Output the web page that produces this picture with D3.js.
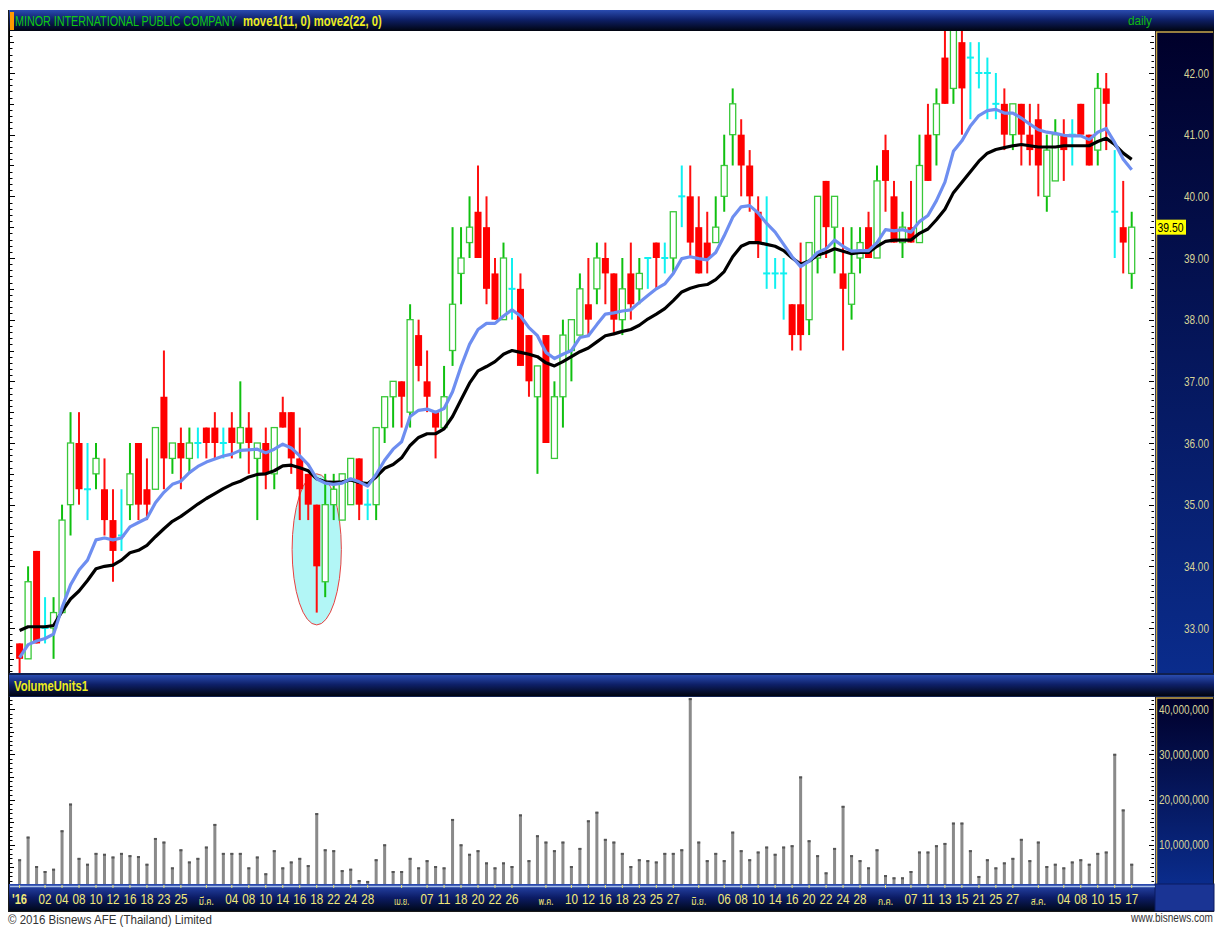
<!DOCTYPE html>
<html><head><meta charset="utf-8">
<script src="https://cdn.jsdelivr.net/npm/d3@7"></script>
<style>body{margin:0;background:#fff;}svg{display:block}</style>
</head><body>
<svg id="chart" width="1215" height="927"></svg>
<script>
// ---------- DATA ----------
const dates = [
"2016-01-28","2016-01-29",
"2016-02-01","2016-02-02","2016-02-03","2016-02-04","2016-02-05","2016-02-08","2016-02-09","2016-02-10","2016-02-11","2016-02-12",
"2016-02-15","2016-02-16","2016-02-17","2016-02-18","2016-02-19","2016-02-23","2016-02-24","2016-02-25","2016-02-26","2016-02-29",
"2016-03-01","2016-03-02","2016-03-03","2016-03-04","2016-03-07","2016-03-08","2016-03-09","2016-03-10","2016-03-11","2016-03-14",
"2016-03-15","2016-03-16","2016-03-17","2016-03-18","2016-03-21","2016-03-22","2016-03-23","2016-03-24","2016-03-25","2016-03-28",
"2016-03-29","2016-03-30","2016-03-31",
"2016-04-01","2016-04-04","2016-04-05","2016-04-07","2016-04-08","2016-04-11","2016-04-12","2016-04-18","2016-04-19","2016-04-20",
"2016-04-21","2016-04-22","2016-04-25","2016-04-26","2016-04-27","2016-04-28","2016-04-29",
"2016-05-03","2016-05-04","2016-05-09","2016-05-10","2016-05-11","2016-05-12","2016-05-13","2016-05-16","2016-05-17","2016-05-18",
"2016-05-19","2016-05-23","2016-05-24","2016-05-25","2016-05-26","2016-05-27","2016-05-30","2016-05-31",
"2016-06-01","2016-06-02","2016-06-03","2016-06-06","2016-06-07","2016-06-08","2016-06-09","2016-06-10","2016-06-13","2016-06-14",
"2016-06-15","2016-06-16","2016-06-17","2016-06-20","2016-06-21","2016-06-22","2016-06-23","2016-06-24","2016-06-27","2016-06-28",
"2016-06-29","2016-06-30",
"2016-07-04","2016-07-05","2016-07-06","2016-07-07","2016-07-08","2016-07-11","2016-07-12","2016-07-13","2016-07-14","2016-07-15",
"2016-07-18","2016-07-21","2016-07-22","2016-07-25","2016-07-26","2016-07-27","2016-07-28","2016-07-29",
"2016-08-01","2016-08-02","2016-08-03","2016-08-04","2016-08-05","2016-08-08","2016-08-09","2016-08-10","2016-08-11","2016-08-15",
"2016-08-16","2016-08-17"];

const open = [32.75,32.5,34.25,33,33,33.25,35,36,35.25,35.5,35.25,34.75,34.5,35,36,35.25,35.25,36.75,35.75,36,
35.75,36,36.25,36.25,36,36.25,36,36.25,35.75,36,35.5,36.5,36.5,35.75,35.5,35,33.75,35,34.75,35,
35.75,35,35,36.25,36.75,37,36.5,37.75,37,36.5,36.25,37.5,38.75,39.25,39.75,39.5,38.75,38,38.5,38.5,
37.75,36.75,37.75,35.75,36.75,37.5,37.75,38.25,38.5,39,38.75,38,38.75,38.5,39,39.25,39,39,40,40,
39.5,39.25,39.25,40,41,41,40.5,39.75,38.75,38.75,38.75,38.25,38.25,38,39,40.25,39.5,38.75,38.25,39,
39.5,39,40.75,40,39.25,39.5,39.25,41,41,42.25,41.75,42.5,42.25,42,42,41.5,41.5,41,41.5,41,
41.25,40,40.25,41,41,41.5,41,40.75,41.75,39.75,39.5,38.75];
const high = [32.75,34,34.25,33.5,33.5,35,36.5,36.5,36,36,35.75,35.25,35.25,36,36,35.75,36.25,37.5,36,36.25,
36.25,36.25,36.25,36.5,36.25,36.5,37,36.5,36,36.25,36.25,36.75,36.5,36.25,35.5,35,35.5,35.5,35.5,35.75,
35.75,35.25,36.25,36.75,37,37,38.25,38,37.5,36.5,37.25,39.5,39.5,40,40.5,40,39,39.25,39,38.75,
37.75,37.25,37.75,37,38,38,38.75,39,39.25,39.25,38.75,39,39.25,39,39,39.25,39.25,39.75,40.5,40.5,
40,39.75,40,41,41.75,41.25,40.75,40,40,39,39,38.25,39.25,39.25,40,40.25,40,39.5,39.5,39.5,
39.75,40.5,41,40.25,39.75,40.25,41,41.5,41.75,42.75,42.75,42.75,42.5,42.5,42.25,42,41.75,41.5,41.5,41.5,
41.5,41,41.25,41.25,41.25,41.5,41,42,42,40.75,40.25,39.75];
const low = [32.25,32.5,32.75,32.75,32.5,33.25,34.5,35,34.75,35.25,34.5,33.75,34.25,34.75,34.75,34.75,35.25,35.25,35.5,35.25,
35.5,35.75,35.75,35.75,35.75,35.75,35.75,35.5,34.75,35.25,35.25,36.25,35.5,34.75,34.75,33.25,33.5,34.75,34.75,35,
34.75,34.75,34.75,36,36.25,36.25,36.25,37,36.5,35.75,36.25,37.25,38.25,39,39,38.25,38,38,38,37.25,
36.75,35.5,36,35.75,36.25,37,37.75,37.75,38.25,38.25,37.75,37.75,38,38.25,38.5,38.5,38.75,38.75,39.5,39,
38.75,38.75,39.25,39.75,40.5,40,39.75,39,38.5,38.5,38,37.5,37.5,37.75,38.75,39,38.75,37.5,38,38.75,
39,39,39.75,39.25,39,39.25,39.25,40.25,40.5,41.5,41.5,41,41.25,41.75,41.25,41.25,40.75,40.75,40.5,40.5,
40,39.75,40.25,40.25,40.5,41,40.5,40.5,40.75,39,38.75,38.5];
const close = [32.5,33.75,32.75,33,33.25,34.75,36,35.25,35.25,35.75,34.75,34.25,34.5,35.5,35,35,36.25,35.75,36,35.75,
36,36,36,36,36,36,36.25,36,36,35.5,36.25,36.25,35.75,35.25,35,34,35,35.25,35.5,35.75,
35,35,36.25,36.75,37,36.75,38,37.25,36.75,36.25,36.75,38.25,39,39.5,39,38.5,38,39,38.5,37.25,
37,37.25,36,36.75,37.75,38,38.5,38,39,38.75,38,38.5,38.25,38.75,39,39,39,39.75,40,39.25,
38.75,39,39.5,40.5,41.5,40.5,40,39.25,38.75,38.75,38.75,37.75,37.75,39.25,40,39.5,40,38.5,38.75,39.25,
39,40.25,40.25,39.25,39.5,39.25,40.5,40.25,41.5,41.5,42.75,41.75,42.25,42,42,41.5,41,41.5,41,40.75,
40.5,40.75,41,40.75,41,41,40.5,41.75,41.5,39.75,39.25,39.5];
const ma11 = [32.52,32.73,32.79,32.83,32.9,33.33,33.7,33.94,34.1,34.43,34.46,34.43,34.46,34.64,34.71,34.78,35.03,35.2,35.33,35.38,
35.52,35.62,35.69,35.74,35.79,35.82,35.88,35.89,35.9,35.84,35.9,35.98,35.92,35.79,35.65,35.42,35.35,35.33,35.35,35.42,
35.37,35.3,35.49,35.72,35.9,36.02,36.43,36.53,36.55,36.5,36.56,36.83,37.24,37.6,37.84,37.94,37.94,38.06,38.16,38.06,
37.87,37.74,37.47,37.37,37.44,37.5,37.71,37.74,37.92,38.09,38.11,38.14,38.16,38.28,38.39,38.5,38.58,38.75,38.99,39.02,
38.99,38.97,39.09,39.36,39.66,39.83,39.85,39.73,39.56,39.42,39.22,39.02,38.86,38.95,39.09,39.15,39.29,39.19,39.11,39.12,
39.12,39.25,39.46,39.44,39.46,39.42,39.59,39.69,39.93,40.23,40.73,40.9,41.14,41.31,41.39,41.41,41.35,41.35,41.27,41.17,
41.08,41.04,41.02,40.99,40.98,40.98,40.92,41.04,41.1,40.87,40.6,40.43];
const ma22 = [32.96,33.02,33.02,33.02,33.04,33.27,33.47,33.6,33.77,33.96,34,34.02,34.1,34.22,34.26,34.34,34.48,34.61,34.73,34.81,
34.91,35.01,35.1,35.18,35.26,35.33,35.38,35.45,35.49,35.5,35.55,35.63,35.64,35.6,35.55,35.42,35.37,35.36,35.37,35.4,
35.36,35.34,35.45,35.59,35.65,35.76,35.96,36.09,36.15,36.15,36.23,36.43,36.7,36.97,37.17,37.24,37.32,37.44,37.5,37.47,
37.44,37.4,37.3,37.25,37.32,37.4,37.48,37.54,37.64,37.74,37.77,37.81,37.84,37.91,38.01,38.09,38.18,38.31,38.45,38.51,
38.55,38.57,38.65,38.78,39.02,39.19,39.25,39.25,39.22,39.19,39.12,39,38.9,38.95,39.05,39.09,39.15,39.11,39.07,39.09,
39.09,39.19,39.27,39.29,39.29,39.29,39.4,39.47,39.62,39.79,40.06,40.23,40.4,40.57,40.7,40.76,40.79,40.82,40.84,40.82,
40.8,40.8,40.8,40.82,40.82,40.82,40.82,40.89,40.94,40.84,40.7,40.6];
const volume = [6.8,11.8,5.3,4.2,4.7,13.2,19.1,7.1,5.8,8.2,8.0,7.4,8.2,7.7,7.5,5.8,11.5,10.7,5.0,9.0,
6.3,7.1,9.6,14.6,8.2,8.2,8.2,5.0,7.4,3.7,8.8,5.0,6.3,7.1,5.5,17.0,9.0,8.8,4.4,4.7,
2.2,2.0,6.8,10.1,4.2,4.2,7.1,5.0,6.6,5.3,5.0,15.7,10.1,8.0,8.8,6.1,5.0,6.1,5.3,16.7,
6.6,12.1,10.7,8.8,10.7,5.3,9.3,15.4,17.3,11.3,10.7,8.2,5.3,6.8,6.6,6.3,8.2,8.2,9.0,42.4,
10.7,6.6,8.2,6.6,12.9,8.8,6.8,8.5,9.6,8.0,9.6,9.9,25.1,11.0,7.7,3.9,9.3,18.6,7.7,6.6,
5.0,9.0,3.3,2.8,2.8,4.2,8.5,8.5,9.9,10.4,14.9,14.9,8.8,3.1,6.8,5.0,6.1,7.1,11.3,6.6,
10.7,5.3,5.8,5.0,6.3,6.8,5.8,8.2,8.5,30.1,17.8,5.8].map(v => v * 1e6);

const priceTicks = [33,34,35,36,37,38,39,40,41,42];
const volumeTicks = [10e6,20e6,30e6,40e6];
const dateTicks = [
["2016-01-28","'16"],["2016-02-02","02"],["2016-02-04","04"],["2016-02-08","08"],["2016-02-10","10"],["2016-02-12","12"],
["2016-02-16","16"],["2016-02-18","18"],["2016-02-23","23"],["2016-02-25","25"],["2016-03-01","มี.ค."],["2016-03-04","04"],
["2016-03-08","08"],["2016-03-10","10"],["2016-03-14","14"],["2016-03-16","16"],["2016-03-18","18"],["2016-03-22","22"],
["2016-03-24","24"],["2016-03-28","28"],["2016-04-01","เม.ย."],["2016-04-07","07"],["2016-04-11","11"],["2016-04-18","18"],
["2016-04-20","20"],["2016-04-22","22"],["2016-04-26","26"],["2016-05-03","พ.ค."],["2016-05-10","10"],["2016-05-12","12"],
["2016-05-16","16"],["2016-05-18","18"],["2016-05-23","23"],["2016-05-25","25"],["2016-05-27","27"],["2016-06-01","มิ.ย."],
["2016-06-06","06"],["2016-06-08","08"],["2016-06-10","10"],["2016-06-14","14"],["2016-06-16","16"],["2016-06-20","20"],
["2016-06-22","22"],["2016-06-24","24"],["2016-06-28","28"],["2016-07-04","ก.ค."],["2016-07-07","07"],["2016-07-11","11"],
["2016-07-13","13"],["2016-07-15","15"],["2016-07-21","21"],["2016-07-25","25"],["2016-07-27","27"],["2016-08-01","ส.ค."],
["2016-08-04","04"],["2016-08-08","08"],["2016-08-10","10"],["2016-08-15","15"],["2016-08-17","17"]];
const monthLabels = ["มี.ค.","เม.ย.","พ.ค.","มิ.ย.","ก.ค.","ส.ค."];
const highlightDate = "2016-03-18";
const highlightRange = [33.05, 35.5];
const lastClose = 39.50;
const titleText = "MINOR INTERNATIONAL PUBLIC COMPANY";
const studyText = "move1(11, 0) move2(22, 0)";

// ---------- LAYOUT ----------
const L = 10, R = 1155, AX = 1213;
const pTop = 31, pBot = 673;
const vTop = 697, vBot = 884;
const FONT = "'Liberation Sans','Arial',sans-serif";
const THAI = "'Noto Sans Thai','Loma','Garuda','Noto Sans','DejaVu Sans',sans-serif";

const svg = d3.select("#chart");
const defs = svg.append("defs");
function grad(id, stops) {
  const g = defs.append("linearGradient").attr("id", id).attr("x1",0).attr("y1",0).attr("x2",0).attr("y2",1);
  stops.forEach(s => g.append("stop").attr("offset", s[0]).attr("stop-color", s[1]));
}
grad("hdr", [[0,"#2a4cb0"],[0.45,"#0e2068"],[1,"#000410"]]);
grad("axr", [[0,"#00002a"],[1,"#0a2c8c"]]);
grad("band", [[0,"#2a4ab0"],[0.5,"#0c1c66"],[1,"#000818"]]);
defs.append("clipPath").attr("id","pclip").append("rect").attr("x",L).attr("y",pTop).attr("width",R-L).attr("height",pBot-pTop);
defs.append("clipPath").attr("id","vclip").append("rect").attr("x",L).attr("y",vTop).attr("width",R-L).attr("height",vBot-vTop);

const x = d3.scalePoint().domain(dates).range([19.6, 1131.7]);
const y = d3.scaleLinear().domain([33, 42]).range([628, 73]);
const yv = d3.scaleLinear().domain([0, 40e6]).range([890, 709]);
const step = x.step();

// text fitted to an exact width by horizontal scaling (keeps real bounding box)
function fitText(g, str, x0, y0, width, opts = {}) {
  const t = g.append("text").attr("x",0).attr("y",0)
    .attr("font-family", opts.family || FONT).attr("font-size", opts.size || 12)
    .attr("fill", opts.fill || "#000").text(str);
  if (opts.weight) t.attr("font-weight", opts.weight);
  const w = t.node().getComputedTextLength() || width;
  const sx = width / w;
  const anchor = opts.anchor || "start";
  const left = anchor === "end" ? x0 - width : anchor === "middle" ? x0 - width / 2 : x0;
  t.attr("transform", `translate(${left},${y0}) scale(${sx},1)`);
  return t;
}

// page frame
svg.append("rect").attr("x",0).attr("y",0).attr("width",1215).attr("height",927).attr("fill","#fff");
svg.append("rect").attr("x",8.5).attr("y",10.5).attr("width",1205).attr("height",901).attr("fill","none").attr("stroke","#1a1a1a").attr("stroke-width",1);

// header bars
function header(y0, h) {
  svg.append("rect").attr("x",9).attr("y",y0).attr("width",1205).attr("height",h).attr("fill","url(#hdr)");
}
header(10, 21);
header(675, 21);
svg.append("rect").attr("x",10).attr("y",12).attr("width",4).attr("height",18).attr("fill","#ff9a00");
fitText(svg, titleText, 15, 26, 222, {size:14, fill:"#10c810"});
fitText(svg, studyText, 243, 26, 139, {size:14, weight:"bold", fill:"#ecec20"});
fitText(svg, "daily", 1152, 25, 24, {size:13, fill:"#10b810", anchor:"end"});
fitText(svg, "VolumeUnits1", 14, 691, 74, {size:14, weight:"bold", fill:"#ecec20"});

// right axis panels
function rightPanel(y0, y1) {
  svg.append("rect").attr("x",R).attr("y",y0).attr("width",AX-R).attr("height",y1-y0).attr("fill","url(#axr)");
  svg.append("path").attr("d",`M${R+1.5},${y1}V${y0+1}H${AX}`).attr("fill","none").attr("stroke","#c8a848").attr("stroke-width",1.5);
}
rightPanel(pTop, pBot);
rightPanel(vTop, vBot);

// edge ticks
const tg = svg.append("g");
d3.range(323, 428, 1).map(v => v / 10).forEach(v => {
  const yy = Math.round(y(v)) + 0.5;
  if (yy < pTop || yy > pBot) return;
  const major = Math.abs(v - Math.round(v)) < 1e-6;
  const half = Math.abs(v*2 - Math.round(v*2)) < 1e-6;
  const len = major ? 5 : (half ? 4 : 2.5);
  tg.append("line").attr("x1",R-1-len).attr("x2",R-1).attr("y1",yy).attr("y2",yy).attr("stroke","#000").attr("stroke-width",1);
  tg.append("line").attr("x1",L).attr("x2",L+len).attr("y1",yy).attr("y2",yy).attr("stroke","#000").attr("stroke-width",1);
});
d3.range(1e6, 43e6, 1e6).forEach(v => {
  const yy = Math.round(yv(v)) + 0.5;
  if (yy < vTop || yy > vBot) return;
  const major = v % 10e6 === 0, half = v % 5e6 === 0;
  const len = major ? 5 : (half ? 4 : 2.5);
  tg.append("line").attr("x1",R-1-len).attr("x2",R-1).attr("y1",yy).attr("y2",yy).attr("stroke","#000").attr("stroke-width",1);
  tg.append("line").attr("x1",L).attr("x2",L+len).attr("y1",yy).attr("y2",yy).attr("stroke","#000").attr("stroke-width",1);
});

// axis labels
const pl = svg.append("g");
priceTicks.forEach(d => fitText(pl, d3.format(".2f")(d), 1209, y(d)+4.5, 25, {size:12.5, fill:"#d8d498", anchor:"end"}));
const vl = svg.append("g");
volumeTicks.forEach(d => fitText(vl, d3.format(",")(d), 1209, yv(d)+4.5, 50, {size:12.5, fill:"#d8d498", anchor:"end"}));

// highlight ellipse
const hy0 = y(highlightRange[1]), hy1 = y(highlightRange[0]);
svg.append("ellipse").attr("clip-path","url(#pclip)")
  .attr("cx", x(highlightDate)).attr("cy",(hy0+hy1)/2).attr("rx", step*2.9).attr("ry",(hy1-hy0)/2)
  .attr("fill","#b2f6f6").attr("stroke","#e84040").attr("stroke-width",1);

// candles
const data = dates.map((d,i) => ({d, o:open[i], h:high[i], l:low[i], c:close[i]}));
const cg = svg.append("g").attr("clip-path","url(#pclip)");
const bw = 6;
data.forEach(k => {
  const cx = x(k.d);
  if (k.c === k.o) {
    cg.append("line").attr("x1",cx).attr("x2",cx).attr("y1",y(k.h)).attr("y2",y(k.l)).attr("stroke","#10f0f0").attr("stroke-width",2);
    cg.append("line").attr("x1",cx-3.5).attr("x2",cx+3.5).attr("y1",y(k.o)).attr("y2",y(k.o)).attr("stroke","#10f0f0").attr("stroke-width",2);
  } else if (k.c > k.o) {
    cg.append("line").attr("x1",cx).attr("x2",cx).attr("y1",y(k.h)).attr("y2",y(k.l)).attr("stroke","#10c010").attr("stroke-width",2);
    cg.append("rect").attr("x",cx-bw/2).attr("y",y(k.c)).attr("width",bw).attr("height",y(k.o)-y(k.c))
      .attr("fill","#fff").attr("stroke","#38c838").attr("stroke-width",1.3);
  } else {
    cg.append("line").attr("x1",cx).attr("x2",cx).attr("y1",y(k.h)).attr("y2",y(k.l)).attr("stroke","#ff1010").attr("stroke-width",2);
    cg.append("rect").attr("x",cx-bw/2-0.5).attr("y",y(k.o)).attr("width",bw+1).attr("height",y(k.c)-y(k.o))
      .attr("fill","#ff0000");
  }
});

// moving averages
const line = d3.line().x((v,i) => x(dates[i])).y(v => y(v)).curve(d3.curveLinear);
cg.append("path").attr("d", line(ma22)).attr("fill","none").attr("stroke","#000").attr("stroke-width",3.2).attr("stroke-linejoin","round");
cg.append("path").attr("d", line(ma11)).attr("fill","none").attr("stroke","#6e8ef0").attr("stroke-width",3.2).attr("stroke-linejoin","round");

// last price tag
svg.append("rect").attr("x",R+1).attr("y",y(lastClose)-7.5).attr("width",30).attr("height",15).attr("fill","#ffff00");
fitText(svg, d3.format(".2f")(lastClose), R+2.5, y(lastClose)+4.5, 26, {size:12, fill:"#000"});

// volume bars
const vg = svg.append("g").attr("clip-path","url(#vclip)");
dates.forEach((d,i) => {
  const cx = x(d);
  vg.append("rect").attr("x",cx-1.5).attr("y",yv(volume[i])).attr("width",3).attr("height",yv(0)-yv(volume[i])).attr("fill","#8a8a8a");
  vg.append("rect").attr("x",cx-1.5).attr("y",yv(volume[i])).attr("width",3).attr("height",2).attr("fill","#555");
});

// panel borders
svg.append("line").attr("x1",L-0.5).attr("x2",L-0.5).attr("y1",pTop).attr("y2",pBot).attr("stroke","#000");
svg.append("line").attr("x1",L-0.5).attr("x2",L-0.5).attr("y1",vTop).attr("y2",vBot).attr("stroke","#000");
svg.append("rect").attr("x",9).attr("y",pBot).attr("width",1205).attr("height",2).attr("fill","#102050");
svg.append("rect").attr("x",9).attr("y",vTop-1).attr("width",1205).attr("height",1).attr("fill","#102050");

// date axis band
svg.append("rect").attr("x",9).attr("y",vBot).attr("width",1205).attr("height",27).attr("fill","url(#band)");
svg.append("rect").attr("x",R).attr("y",vBot).attr("width",AX-R+1).attr("height",27).attr("fill","#1a3494").attr("stroke","#0a1a60");
svg.append("line").attr("x1",L).attr("x2",R).attr("y1",vBot+2.5).attr("y2",vBot+2.5).attr("stroke","#a8c0e8").attr("stroke-width",1.5);
const axg = svg.append("g");
dateTicks.forEach(([d, lab]) => {
  const cx = x(d);
  axg.append("line").attr("x1",cx).attr("x2",cx).attr("y1",vBot+1).attr("y2",vBot+4).attr("stroke","#e8e070").attr("stroke-width",1);
  if (lab === "'16") {
    fitText(axg, lab, 12, vBot+20, 15, {size:15, weight:"bold", fill:"#f0e878"});
  } else if (monthLabels.includes(lab)) {
    fitText(axg, lab, cx, vBot+21, 15, {size:10, family:THAI, fill:"#f0e878", anchor:"middle"});
  } else {
    fitText(axg, lab, cx, vBot+20, 13, {size:15, fill:"#f0e878", anchor:"middle"});
  }
});

// footer
fitText(svg, "© 2016 Bisnews AFE (Thailand) Limited", 8, 924, 204, {size:12.5, fill:"#333"});
fitText(svg, "www.bisnews.com", 1213, 922, 82, {size:12, fill:"#333", anchor:"end"});
</script>
</body></html>
